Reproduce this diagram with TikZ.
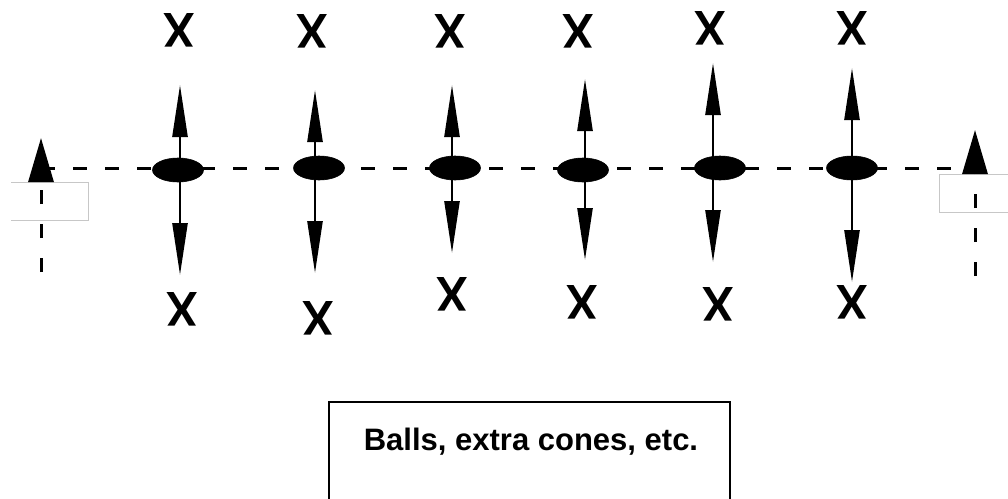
\documentclass[tikz,border=0pt]{standalone}
\usepackage{fontspec}
\setmainfont{Liberation Sans}
\usetikzlibrary{arrows.meta,shapes.geometric}
\begin{document}
\begin{tikzpicture}[x=1pt,y=-1pt,
  cone/.style={ellipse,fill=black,draw=black,line width=0.6pt,minimum width=51pt,minimum height=24pt,inner sep=0pt},
  runarrow/.style={line width=2.5pt,-{Triangle[length=52pt,width=15pt]}},
  sidearrow/.style={line width=3pt,dash pattern=on 14pt off 20pt,-{Triangle[length=44pt,width=25pt]}},
  baseline line/.style={line width=3pt,dash pattern=on 14pt off 18pt},
  player/.style={font=\fontsize{47}{47}\bfseries\selectfont,inner sep=0pt,yscale=-1.04},
  marker/.style={draw=black!22,line width=1pt},
  legendbox/.style={line width=2.5pt}
]
\useasboundingbox (0,0) rectangle (1008,498);
% side markers
\draw[marker] (11,182) -- (88,182) -- (88,220) -- (11,220);
\draw[marker] (1008,174) -- (939,174) -- (939,212) -- (1008,212);
% baseline
\coordinate (L) at (41,168);
\coordinate (R) at (975,168);
\draw[baseline line] (L) -- (R);
% side arrows
\coordinate (Lb) at (41,272);
\coordinate (Lt) at (41,138);
\coordinate (Rb) at (975,276);
\coordinate (Rt) at (975,130);
\draw[sidearrow] (Lb) -- (Lt);
\draw[sidearrow] (Rb) -- (Rt);
% columns: shaft x, ellipse centre, up tip, down tip, top X, bottom X
\foreach \i/\sx/\ex/\ey/\up/\dn/\tx/\ty/\bx/\by in {
  1/180/178/170/85/275/179/30/182/309,
  2/315/319/168/90/273/312/31/318/318,
  3/452/455/168/85/253/450/31/452/294,
  4/585/583/170/79/260/578/31/582/302,
  5/713/720/168/63/262/710/28/718/304,
  6/852/852/168/68/282/852/28/852/302}{
  \node[cone] (c\i) at (\ex,\ey) {};
  \coordinate (m\i) at (\sx,168);
  \coordinate (u\i) at (\sx,\up);
  \coordinate (d\i) at (\sx,\dn);
  \draw[runarrow] (m\i) -- (u\i);
  \draw[runarrow] (m\i) -- (d\i);
  \node[player] (tx\i) at (\tx,\ty) {X};
  \node[player] (bx\i) at (\bx,\by) {X};
}
% legend box
\draw[legendbox] (329,499) -- (329,402) -- (730,402) -- (730,499);
\node[font=\fontsize{31}{31}\bfseries\selectfont,inner sep=0pt,anchor=base] (legend) at (531,450) {Balls, extra cones, etc.};
\end{tikzpicture}
\end{document}
